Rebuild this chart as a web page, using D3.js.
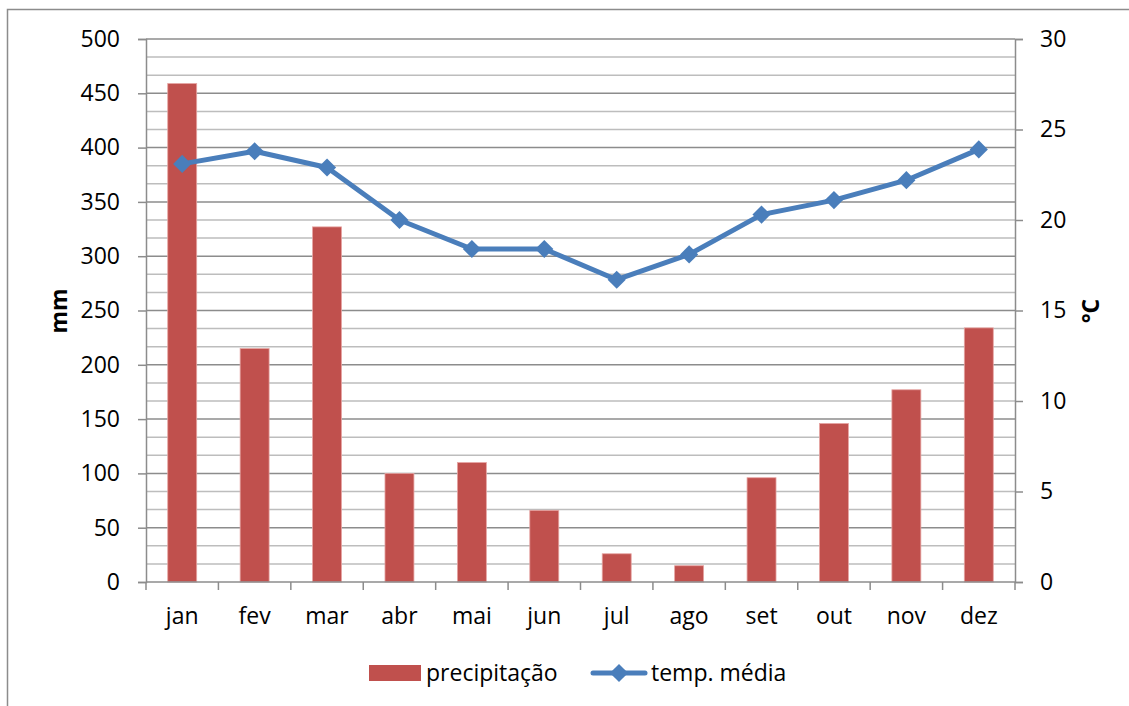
<!DOCTYPE html>
<html>
<head>
<meta charset="utf-8">
<script src="https://cdn.jsdelivr.net/npm/d3@7"></script>
<style>
  body { margin: 0; background: #fff; }
  svg { display: block; font-family: "Open Sans", Lato, sans-serif; }
</style>
</head>
<body>
<div id="chart"></div>
<script>
// dados
const months = ["jan", "fev", "mar", "abr", "mai", "jun", "jul", "ago", "set", "out", "nov", "dez"];
const precipitacao = [459, 215, 327, 100, 110, 66, 26, 15, 96, 146, 177, 234];
const tempMedia = [23.1, 23.8, 22.9, 20.0, 18.4, 18.4, 16.7, 18.1, 20.3, 21.1, 22.2, 23.9];
const mmTicks = [0, 50, 100, 150, 200, 250, 300, 350, 400, 450, 500];
const cTicks = [0, 5, 10, 15, 20, 25, 30];

const width = 1129;
const height = 706;
const marginLeft = 146;
const marginRight = 1015;
const marginTop = 39;
const marginBottom = 582;
const fontSize = 23;

const barColor = "#c0504d";
const lineColor = "#4a7ebb";

const svg = d3
  .select("#chart")
  .append("svg")
  .attr("width", width)
  .attr("height", height);

// moldura externa
svg
  .append("rect")
  .attr("x", 7.5)
  .attr("y", 9.5)
  .attr("width", 1300)
  .attr("height", 900)
  .attr("fill", "none")
  .attr("stroke", "#8c8c8c")
  .attr("stroke-width", 1.5);

const x = d3
  .scaleBand()
  .domain(months)
  .range([marginLeft, marginRight])
  .paddingInner(0.6)
  .paddingOuter(0.3);

const xPoint = (d) => x(d) + x.bandwidth() / 2;

const yLeft = d3.scaleLinear().domain([0, 500]).range([marginBottom, marginTop]);
const yRight = d3.scaleLinear().domain([0, 30]).range([marginBottom, marginTop]);

// grade secundária (3 divisões por intervalo)
const minorTicks = d3.range(0, 500, 50 / 3).filter((v, i) => i % 3 !== 0);
svg
  .append("g")
  .selectAll("line")
  .data(minorTicks)
  .join("line")
  .attr("x1", marginLeft)
  .attr("x2", marginRight)
  .attr("y1", (d) => yLeft(d))
  .attr("y2", (d) => yLeft(d))
  .attr("stroke", "#bdbdbd")
  .attr("stroke-width", 1.5);

// grade principal
svg
  .append("g")
  .selectAll("line")
  .data(mmTicks.slice(1))
  .join("line")
  .attr("x1", marginLeft)
  .attr("x2", marginRight)
  .attr("y1", (d) => yLeft(d))
  .attr("y2", (d) => yLeft(d))
  .attr("stroke", "#8c8c8c")
  .attr("stroke-width", 1.5);

// barras
svg
  .append("g")
  .selectAll("rect")
  .data(precipitacao)
  .join("rect")
  .attr("x", (d, i) => x(months[i]))
  .attr("y", (d) => yLeft(d))
  .attr("width", x.bandwidth())
  .attr("height", (d) => yLeft(0) - yLeft(d))
  .attr("fill", barColor)
  .attr("stroke", "#e6a5a3")
  .attr("stroke-width", 0.8);

// eixo esquerdo
const leftAxis = svg
  .append("g")
  .attr("transform", `translate(${marginLeft},0)`)
  .call(d3.axisLeft(yLeft).tickValues(mmTicks).tickSize(8).tickPadding(18));
leftAxis.select(".domain").attr("stroke", "#8c8c8c").attr("stroke-width", 1.5);
leftAxis.selectAll(".tick line").attr("stroke", "#8c8c8c").attr("stroke-width", 1.5);
leftAxis
  .selectAll("text")
  .attr("font-size", fontSize)
  .attr("font-family", "'Open Sans', sans-serif")
  .attr("fill", "#000");

// eixo direito
const rightAxis = svg
  .append("g")
  .attr("transform", `translate(${marginRight},0)`)
  .call(d3.axisRight(yRight).tickValues(cTicks).tickSize(8).tickPadding(17));
rightAxis.select(".domain").attr("stroke", "#8c8c8c").attr("stroke-width", 1.5);
rightAxis.selectAll(".tick line").attr("stroke", "#8c8c8c").attr("stroke-width", 1.5);
rightAxis
  .selectAll("text")
  .attr("font-size", fontSize)
  .attr("font-family", "'Open Sans', sans-serif")
  .attr("fill", "#000");

// eixo das categorias
const bottom = svg.append("g").attr("transform", `translate(0,${marginBottom})`);
bottom
  .append("line")
  .attr("x1", marginLeft)
  .attr("x2", marginRight)
  .attr("stroke", "#8c8c8c")
  .attr("stroke-width", 1.5);
const step = x.step();
bottom
  .selectAll(".sep")
  .data(d3.range(months.length + 1))
  .join("line")
  .attr("class", "sep")
  .attr("x1", (d) => marginLeft + d * step)
  .attr("x2", (d) => marginLeft + d * step)
  .attr("y1", 0)
  .attr("y2", 8)
  .attr("stroke", "#8c8c8c")
  .attr("stroke-width", 1.5);
bottom
  .selectAll("text")
  .data(months)
  .join("text")
  .attr("x", (d) => xPoint(d))
  .attr("y", 42)
  .attr("text-anchor", "middle")
  .attr("font-size", fontSize)
  .text((d) => d);

// linha de temperatura
const line = d3
  .line()
  .x((d, i) => xPoint(months[i]))
  .y((d) => yRight(d));

svg
  .append("path")
  .datum(tempMedia)
  .attr("fill", "none")
  .attr("stroke", lineColor)
  .attr("stroke-width", 5)
  .attr("stroke-linejoin", "round")
  .attr("d", line);

const diamond = d3.symbol().type(d3.symbolDiamond2).size(210);
svg
  .append("g")
  .selectAll("path")
  .data(tempMedia)
  .join("path")
  .attr("transform", (d, i) => `translate(${xPoint(months[i])},${yRight(d)})`)
  .attr("d", diamond)
  .attr("fill", lineColor);

// títulos dos eixos
svg
  .append("text")
  .attr("transform", `translate(67,311) rotate(-90)`)
  .attr("text-anchor", "middle")
  .attr("font-size", fontSize)
  .attr("font-weight", "bold")
  .text("mm");

svg
  .append("text")
  .attr("transform", `translate(1099,311) rotate(-90)`)
  .attr("text-anchor", "middle")
  .attr("font-size", fontSize)
  .attr("font-weight", "bold")
  .text("°C");

// legenda
const legend = svg.append("g");
legend
  .append("rect")
  .attr("x", 369)
  .attr("y", 665)
  .attr("width", 52)
  .attr("height", 16)
  .attr("fill", barColor);
legend
  .append("text")
  .attr("x", 426)
  .attr("y", 681)
  .attr("font-size", fontSize)
  .text("precipitação");
legend
  .append("line")
  .attr("x1", 593)
  .attr("x2", 645)
  .attr("y1", 673)
  .attr("y2", 673)
  .attr("stroke", lineColor)
  .attr("stroke-width", 5)
  .attr("stroke-linecap", "round");
legend
  .append("path")
  .attr("transform", "translate(619,673)")
  .attr("d", diamond)
  .attr("fill", lineColor);
legend
  .append("text")
  .attr("x", 651)
  .attr("y", 681)
  .attr("font-size", fontSize)
  .text("temp. média");
</script>
</body>
</html>
